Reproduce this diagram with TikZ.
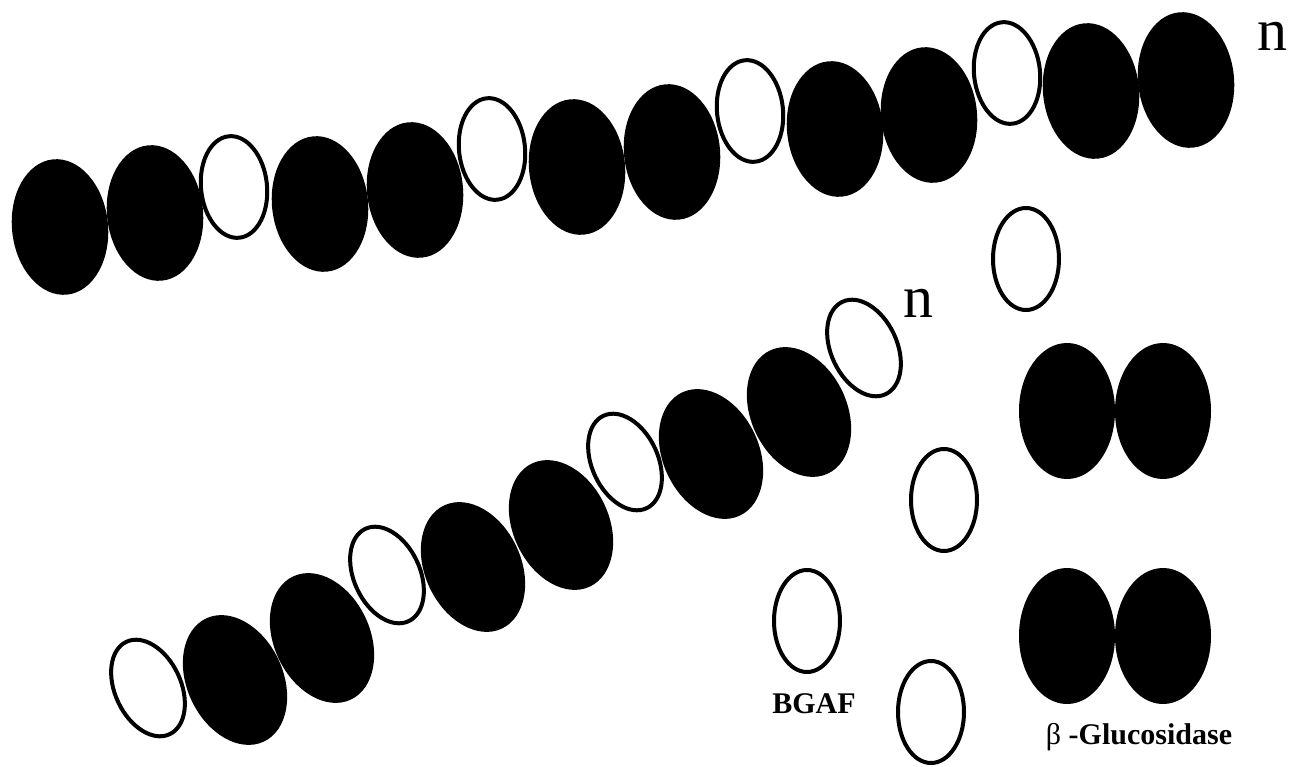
\documentclass[tikz,border=0pt]{standalone}
\usepackage{fontspec}
\setmainfont{Liberation Serif}
\usetikzlibrary{shapes.geometric}
\begin{document}
\begin{tikzpicture}[x=1pt,y=-1pt,
  blk/.style={ellipse, fill=black, inner sep=0pt, minimum width=96pt, minimum height=136pt},
  wht/.style={ellipse, draw=black, line width=4pt, fill=white, inner sep=0pt, minimum width=66pt, minimum height=102pt},
  lbl/.style={inner sep=0pt, anchor=base, font=\fontsize{30}{36}\selectfont},
  nlbl/.style={inner sep=0pt, anchor=base, font=\fontsize{60}{70}\selectfont}]
\useasboundingbox (0,0) rectangle (1299,767);
% top chain
\begin{scope}[every node/.append style={rotate=6}]
\node[blk] (t1) at (60,227) {};
\node[blk] (t2) at (155,213) {};
\node[wht] (t3) at (234,187) {};
\node[blk] (t4) at (320,204) {};
\node[blk] (t5) at (415,190) {};
\node[wht] (t6) at (492,149) {};
\node[blk] (t7) at (577,167) {};
\node[blk] (t8) at (672,152) {};
\node[wht] (t9) at (750,111) {};
\node[blk] (t10) at (835,129) {};
\node[blk] (t11) at (929,115) {};
\node[wht] (t12) at (1007,73) {};
\node[blk] (t13) at (1091,91) {};
\node[blk] (t14) at (1186,80) {};
\end{scope}
\node[nlbl] (n1) at (1272,51) {n};
% bottom chain
\begin{scope}[every node/.append style={rotate=25}]
\node[wht] (b1) at (148,688) {};
\node[blk] (b2) at (235,680) {};
\node[blk] (b3) at (322,638) {};
\node[wht] (b4) at (387,575) {};
\node[blk] (b5) at (473,567) {};
\node[blk] (b6) at (561,525) {};
\node[wht] (b7) at (625,462) {};
\node[blk] (b8) at (711,454) {};
\node[blk] (b9) at (799,412) {};
\node[wht] (b10) at (864,348) {};
\end{scope}
\node[nlbl] (n2) at (918,318) {n};
% free monomers
\node[wht] (f1) at (1026,259) {};
\node[wht] (f2) at (944,500) {};
\node[wht] (f3) at (807,621) {};
\node[wht] (f4) at (931,712) {};
\node[blk] (p1) at (1067,411) {};
\node[blk] (p2) at (1163,411) {};
\node[blk] (p3) at (1067,636) {};
\node[blk] (p4) at (1163,636) {};
% labels
\node[lbl] (bgaf) at (814,713) {\bfseries BGAF};
\node[lbl] (bglu) at (1139,744) {β \bfseries -Glucosidase};
\end{tikzpicture}
\end{document}
